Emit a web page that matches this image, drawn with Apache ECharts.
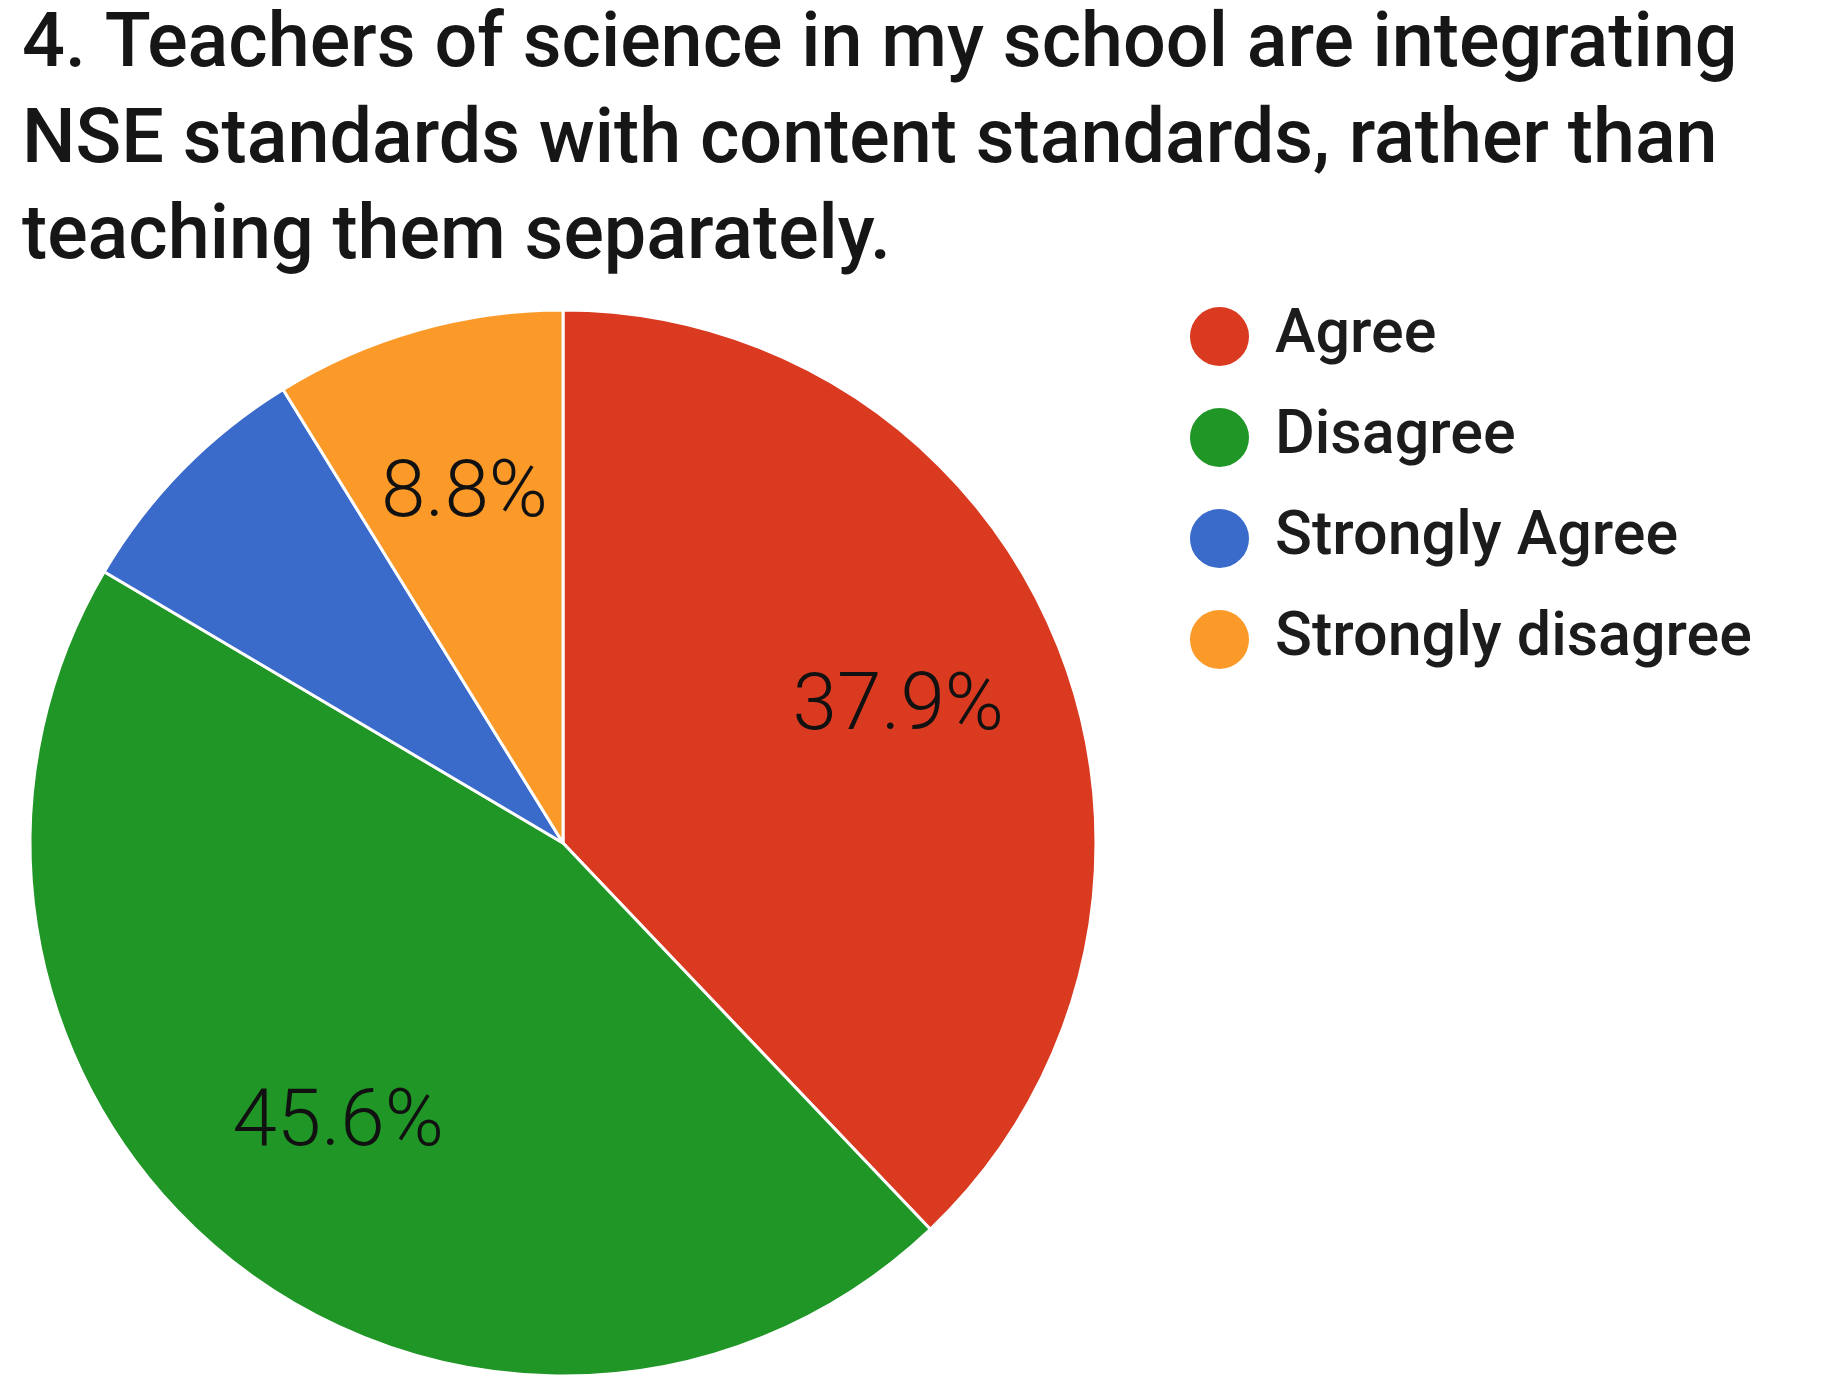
<!DOCTYPE html>
<html>
<head>
<meta charset="utf-8">
<script src="https://cdn.jsdelivr.net/npm/echarts@6/dist/echarts.min.js"></script>
<style>
  html, body { margin: 0; padding: 0; background: #fff; }
  #chart { width: 1822px; height: 1386px; }
</style>
</head>
<body>
<div id="chart"></div>
<script>
const titleText = '4. Teachers of science in my school are integrating\nNSE standards with content standards, rather than\nteaching them separately.';
const categories = ['Agree', 'Disagree', 'Strongly Agree', 'Strongly disagree'];
const percents = [37.9, 45.6, 7.7, 8.8];
const sliceColors = ['#d93a20', '#1f9626', '#3a6bcb', '#fb9a29'];
const hiddenLabels = ['Strongly Agree'];

const chart = echarts.init(document.getElementById('chart'));

const pieData = categories.map((name, i) => ({
    name: name,
    value: percents[i],
    itemStyle: { color: sliceColors[i] }
}));

// second, see-through copy of the pie only to push the labels further out
const labelData = categories.map((name, i) => ({
    name: name,
    value: percents[i],
    label: { show: hiddenLabels.indexOf(name) < 0 }
}));

const option = {
    backgroundColor: '#fff',
    animation: false,
    title: {
        text: titleText,
        left: 22,
        top: -1,
        padding: 0,
        textStyle: {
            fontFamily: 'Roboto',
            fontWeight: 500,
            fontSize: 75.5,
            lineHeight: 96,
            color: '#161616'
        }
    },
    legend: {
        orient: 'vertical',
        left: 1188,
        top: 305,
        padding: 0,
        icon: 'circle',
        itemWidth: 61,
        itemHeight: 61,
        itemGap: 38,
        data: categories,
        textStyle: {
            fontFamily: 'Roboto',
            fontWeight: 500,
            fontSize: 61,
            lineHeight: 61,
            color: '#1c1c1c',
            padding: [0, 0, 0, 20]
        }
    },
    series: [
        {
            type: 'pie',
            center: [563, 843],
            radius: 533,
            startAngle: 90,
            clockwise: true,
            data: pieData,
            label: { show: false },
            labelLine: { show: false },
            itemStyle: { borderColor: '#fff', borderWidth: 3 },
            emphasis: { disabled: true }
        },
        {
            type: 'pie',
            center: [563, 843],
            radius: [183, 533],
            startAngle: 90,
            clockwise: true,
            silent: true,
            data: labelData,
            itemStyle: { color: 'rgba(0,0,0,0)' },
            labelLine: { show: false },
            label: {
                position: 'inside',
                formatter: p => p.value.toFixed(1) + '%',
                fontFamily: 'Roboto',
                fontWeight: 300,
                fontSize: 80,
                color: '#111'
            },
            emphasis: { disabled: true }
        }
    ]
};

chart.setOption(option);
</script>
</body>
</html>
